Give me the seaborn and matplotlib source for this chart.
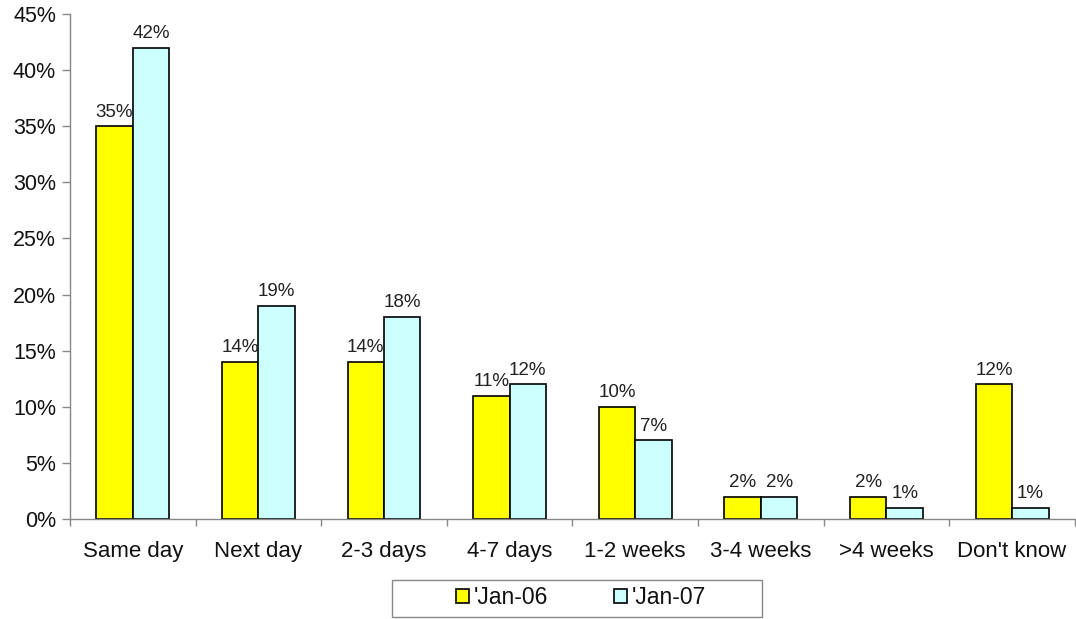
import matplotlib
matplotlib.use("Agg")
import matplotlib.pyplot as plt
import seaborn as sns
import pandas as pd
import numpy as np
from matplotlib.ticker import FixedLocator, FuncFormatter
from matplotlib.patches import Rectangle

categories = ["Same day", "Next day", "2-3 days", "4-7 days", "1-2 weeks",
              "3-4 weeks", ">4 weeks", "Don't know"]
jan06 = [35, 14, 14, 11, 10, 2, 2, 12]
jan07 = [42, 19, 18, 12, 7, 2, 1, 1]
series_names = ["'Jan-06", "'Jan-07"]
y_ticks = [0, 5, 10, 15, 20, 25, 30, 35, 40, 45]

df = pd.DataFrame({
    "category": categories * 2,
    "value": jan06 + jan07,
    "series": [series_names[0]] * len(categories) + [series_names[1]] * len(categories),
})

sns.set_theme(style="white")
plt.rcParams["font.family"] = ["Liberation Sans", "DejaVu Sans"]

fig = plt.figure(figsize=(10.76, 6.19), dpi=100)
ax = fig.add_axes([0.065, 0.1616, 0.934, 0.8157])

sns.barplot(data=df, x="category", y="value", hue="series", order=categories,
            hue_order=series_names, palette=["#FFFF00", "#CCFFFF"], saturation=1,
            width=0.58, edgecolor="black", linewidth=1.2, ax=ax, legend=True)

for cont in ax.containers:
    ax.bar_label(cont, labels=[f"{v:.0f}%" for v in cont.datavalues],
                 padding=4, fontsize=13.5, color="#222222")

ax.set_ylim(0, 45)
ax.set_xlim(-0.5, len(categories) - 0.5)
ax.yaxis.set_major_locator(FixedLocator(y_ticks))
ax.yaxis.set_major_formatter(FuncFormatter(lambda v, p: f"{v:.0f}%"))
ax.set_xlabel("")
ax.set_ylabel("")

ax.tick_params(axis="x", which="major", length=0, labelsize=16, pad=16, labelcolor="#111111")
ax.xaxis.set_minor_locator(FixedLocator(np.arange(-0.5, len(categories), 1.0)))
ax.tick_params(axis="x", which="minor", length=5, width=1, color="#888888", bottom=True)
ax.tick_params(axis="y", which="major", length=6, width=1, color="#888888",
               labelsize=15.5, left=True, pad=4, labelcolor="#111111")

for s in ["top", "right"]:
    ax.spines[s].set_visible(False)
for s in ["left", "bottom"]:
    ax.spines[s].set_color("#888888")
    ax.spines[s].set_linewidth(1)

leg = ax.legend(loc="center", bbox_to_anchor=(581 / 1076, 1 - 598 / 619),
                bbox_transform=fig.transFigure,
                ncol=2, frameon=False, fontsize=16.5,
                handlelength=0.55, handleheight=0.55, columnspacing=2.9, borderpad=0.2,
                handletextpad=0.2)
for t in leg.get_texts():
    t.set_color("#111111")

fig.patches.append(Rectangle((392 / 1076, 1 - 617 / 619), 370 / 1076, 37 / 619,
                             transform=fig.transFigure, fill=False,
                             edgecolor="#888888", linewidth=1))

fig.savefig("out.png", dpi=100)
